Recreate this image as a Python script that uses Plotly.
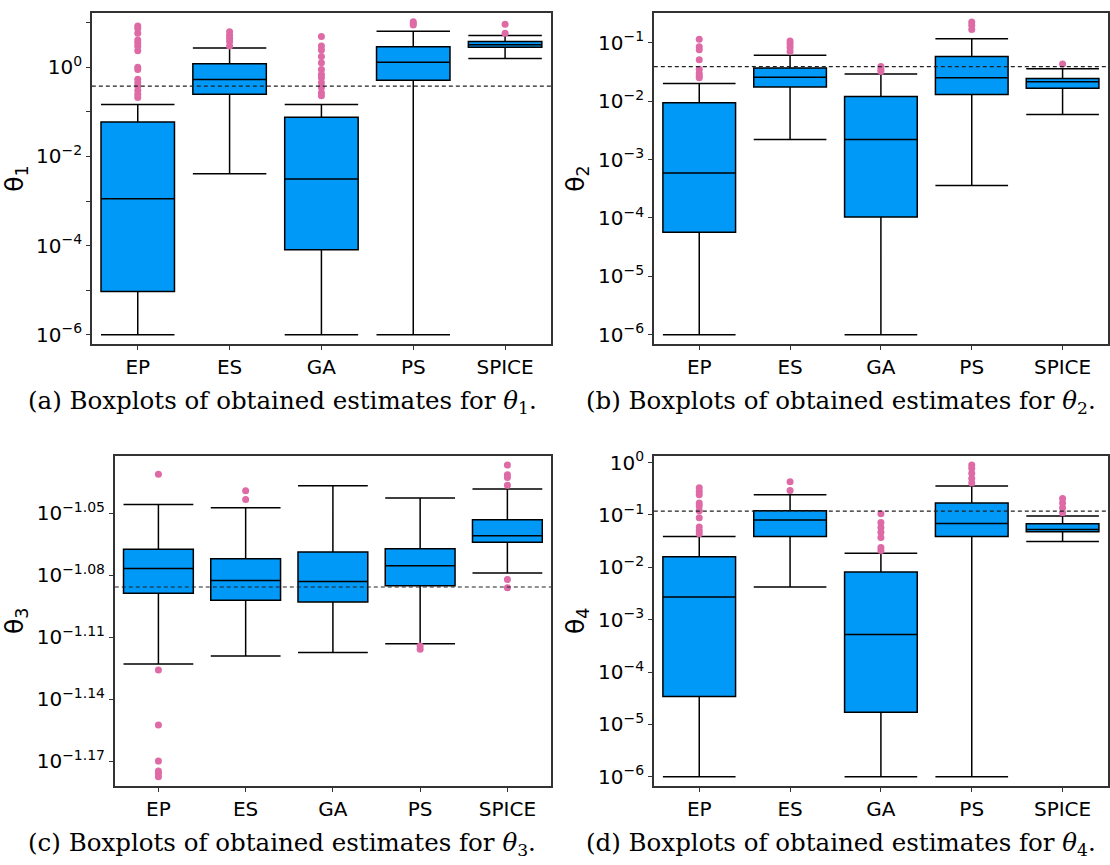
import plotly.graph_objects as go

categories = ["EP", "ES", "GA", "PS", "SPICE"]

# ---- theta_1 ----
t1_low = [1e-6, 0.0041, 1e-6, 1e-6, 1.58]
t1_q1 = [9.3e-6, 0.247, 8.1e-5, 0.51, 2.8]
t1_med = [1.12e-3, 0.53, 3.1e-3, 1.29, 3.2]
t1_q3 = [0.059, 1.2, 0.076, 2.9, 3.8]
t1_high = [0.146, 2.7, 0.146, 6.4, 5.2]
t1_out_x = ["EP"] * 15 + ["ES"] * 5 + ["GA"] * 12 + ["PS"] * 3 + ["SPICE"] * 2
t1_out_y = [8.5, 7.4, 5.8, 4.1, 3.5, 2.95, 2.35, 1.0, 0.89, 0.54, 0.45, 0.38, 0.30, 0.25, 0.21,
            6.3, 5.2, 4.5, 3.8, 3.0,
            4.9, 3.0, 2.45, 1.74, 1.26, 0.89, 0.69, 0.58, 0.45, 0.35, 0.27, 0.23,
            10.5, 9.6, 8.9,
            9.3, 5.8]
t1_true = 0.38

# ---- theta_2 ----
t2_low = [1e-6, 2.2e-3, 1e-6, 3.6e-4, 5.9e-3]
t2_q1 = [5.7e-5, 0.0174, 1.04e-4, 0.013, 0.0166]
t2_med = [5.9e-4, 0.0256, 2.2e-3, 0.025, 0.0214]
t2_q3 = [9.4e-3, 0.037, 0.012, 0.058, 0.0245]
t2_high = [0.020, 0.061, 0.029, 0.117, 0.036]
t2_out_x = ["EP"] * 8 + ["ES"] * 4 + ["GA"] * 3 + ["PS"] * 3 + ["SPICE"]
t2_out_y = [0.115, 0.085, 0.076, 0.051, 0.035, 0.030, 0.027, 0.025,
            0.107, 0.095, 0.083, 0.071,
            0.039, 0.035, 0.032,
            0.226, 0.200, 0.168,
            0.043]
t2_true = 0.039

t3_low_e = [-1.1230, -1.1192, -1.1175, -1.1132, -1.0790]
t3_q1_e = [-1.0888, -1.0922, -1.0930, -1.0852, -1.0642]
t3_med_e = [-1.0769, -1.0826, -1.0831, -1.0755, -1.0610]
t3_q3_e = [-1.0675, -1.0721, -1.0689, -1.0673, -1.0532]
t3_high_e = [-1.0459, -1.0475, -1.0368, -1.0427, -1.0384]
t3_out_x = ["EP"] * 7 + ["ES"] * 2 + ["PS"] * 2 + ["SPICE"] * 6
t3_out_e = [-1.0312, -1.1260, -1.1525, -1.1700, -1.1748, -1.1760, -1.1776,
            -1.0392, -1.0435,
            -1.1143, -1.1159,
            -1.0268, -1.0315, -1.0328, -1.0366, -1.0822, -1.0861]
t3_true_e = -1.0858
t3_tick_e = [-1.05, -1.08, -1.11, -1.14, -1.17]
t3_tick_text = ["10<sup>−1.05</sup>", "10<sup>−1.08</sup>", "10<sup>−1.11</sup>",
                "10<sup>−1.14</sup>", "10<sup>−1.17</sup>"]

# ---- theta_4 ----
t4_low = [1e-6, 4.2e-3, 1e-6, 1e-6, 0.031]
t4_q1 = [3.4e-5, 0.039, 1.7e-5, 0.039, 0.048]
t4_med = [2.7e-3, 0.080, 5.2e-4, 0.069, 0.053]
t4_q3 = [0.016, 0.120, 8.1e-3, 0.170, 0.068]
t4_high = [0.039, 0.245, 0.0186, 0.36, 0.096]
t4_out_x = ["EP"] * 10 + ["ES"] * 2 + ["GA"] * 7 + ["PS"] * 5 + ["SPICE"] * 4
t4_out_y = [0.33, 0.28, 0.245, 0.17, 0.148, 0.12, 0.089, 0.059, 0.050, 0.044,
            0.43, 0.295,
            0.106, 0.072, 0.058, 0.047, 0.037, 0.024, 0.021,
            0.90, 0.78, 0.63, 0.50, 0.41,
            0.206, 0.17, 0.138, 0.110]
t4_true = 0.119

dec_ticks_a = [10.0 ** k for k in range(1, -7, -1)]
dec_text_a = ["", "10<sup>0</sup>", "", "10<sup>−2</sup>", "", "10<sup>−4</sup>", "", "10<sup>−6</sup>"]
dec_ticks_b = [10.0 ** k for k in range(-1, -7, -1)]
dec_text_b = ["10<sup>−%d</sup>" % k for k in range(1, 7)]
dec_ticks_d = [10.0 ** k for k in range(0, -7, -1)]
dec_text_d = ["10<sup>0</sup>"] + ["10<sup>−%d</sup>" % k for k in range(1, 7)]

captions = ["(a) Boxplots of obtained estimates for <i>θ</i><sub>1</sub>.",
            "(b) Boxplots of obtained estimates for <i>θ</i><sub>2</sub>.",
            "(c) Boxplots of obtained estimates for <i>θ</i><sub>3</sub>.",
            "(d) Boxplots of obtained estimates for <i>θ</i><sub>4</sub>."]

BLUE = "#0099F8"
PINK = "#DE6AA6"
W, H = 1110, 865

fig = go.Figure()

panels = [
    dict(low=t1_low, q1=t1_q1, med=t1_med, q3=t1_q3, high=t1_high,
         ox=t1_out_x, oy=t1_out_y, true=t1_true, rng=[-6.21, 1.22],
         tv=dec_ticks_a, tt=dec_text_a, title="θ<sub>1</sub>",
         px=(92, 552), py=(6, 341)),
    dict(low=t2_low, q1=t2_q1, med=t2_med, q3=t2_q3, high=t2_high,
         ox=t2_out_x, oy=t2_out_y, true=t2_true, rng=[-6.16, -0.49],
         tv=dec_ticks_b, tt=dec_text_b, title="θ<sub>2</sub>",
         px=(655, 1110), py=(6, 341)),
    dict(low=[10 ** e for e in t3_low_e], q1=[10 ** e for e in t3_q1_e],
         med=[10 ** e for e in t3_med_e], q3=[10 ** e for e in t3_q3_e],
         high=[10 ** e for e in t3_high_e],
         ox=t3_out_x, oy=[10 ** e for e in t3_out_e], true=10 ** t3_true_e,
         rng=[-1.182, -1.0223],
         tv=[10 ** e for e in t3_tick_e], tt=t3_tick_text, title="θ<sub>3</sub>",
         px=(115, 552), py=(454, 788)),
    dict(low=t4_low, q1=t4_q1, med=t4_med, q3=t4_q3, high=t4_high,
         ox=t4_out_x, oy=t4_out_y, true=t4_true, rng=[-6.176, 0.132],
         tv=dec_ticks_d, tt=dec_text_d, title="θ<sub>4</sub>",
         px=(655, 1110), py=(454, 788)),
]

cap_pos = [(283, 400), (843, 400), (283, 847), (843, 847)]

for i, p in enumerate(panels):
    n = "" if i == 0 else str(i + 1)
    xa, ya = "x" + n, "y" + n
    fig.add_trace(go.Box(
        x=categories, q1=p["q1"], median=p["med"], q3=p["q3"],
        lowerfence=p["low"], upperfence=p["high"],
        fillcolor=BLUE, line=dict(color="black", width=1.5),
        width=0.8, whiskerwidth=1, boxpoints=False, showlegend=False,
        xaxis=xa, yaxis=ya))
    fig.add_trace(go.Scatter(
        x=p["ox"], y=p["oy"], mode="markers",
        marker=dict(color=PINK, size=7, line=dict(width=0)),
        showlegend=False, xaxis=xa, yaxis=ya))
    fig.add_shape(type="line", xref=xa + " domain", yref=ya,
                  x0=0, x1=1, y0=p["true"], y1=p["true"],
                  line=dict(color="#222222", width=1.2, dash="4px,3px"), layer="above")
    x0, x1 = p["px"]
    y0, y1 = p["py"]
    common = dict(showline=True, linecolor="#333333", linewidth=1.5, mirror=True,
                  showgrid=False, zeroline=False, ticks="outside", ticklen=4,
                  tickcolor="#333333",
                  tickfont=dict(family="DejaVu Sans", size=20, color="black"))
    fig.update_layout(**{
        ("xaxis" + n): dict(domain=[x0 / W, min(x1 / W, 1.0)], anchor=ya,
                            type="category", range=[-0.5, 4.5], **common),
        ("yaxis" + n): dict(domain=[1 - y1 / H, 1 - y0 / H], anchor=xa,
                            type="log", range=p["rng"], tickmode="array",
                            tickvals=p["tv"], ticktext=p["tt"],
                            title=dict(text=p["title"], standoff=6,
                                       font=dict(family="DejaVu Sans", size=25, color="black")),
                            **common),
    })
    cx, cy = cap_pos[i]
    fig.add_annotation(text=captions[i], xref="paper", yref="paper",
                       x=cx / W, y=1 - cy / H, xanchor="center", yanchor="middle",
                       showarrow=False,
                       font=dict(family="DejaVu Serif", size=24.5, color="black"))

fig.update_layout(width=W, height=H, margin=dict(l=0, r=0, t=0, b=0),
                  paper_bgcolor="white", plot_bgcolor="white",
                  showlegend=False)

fig.write_html("out.html")
